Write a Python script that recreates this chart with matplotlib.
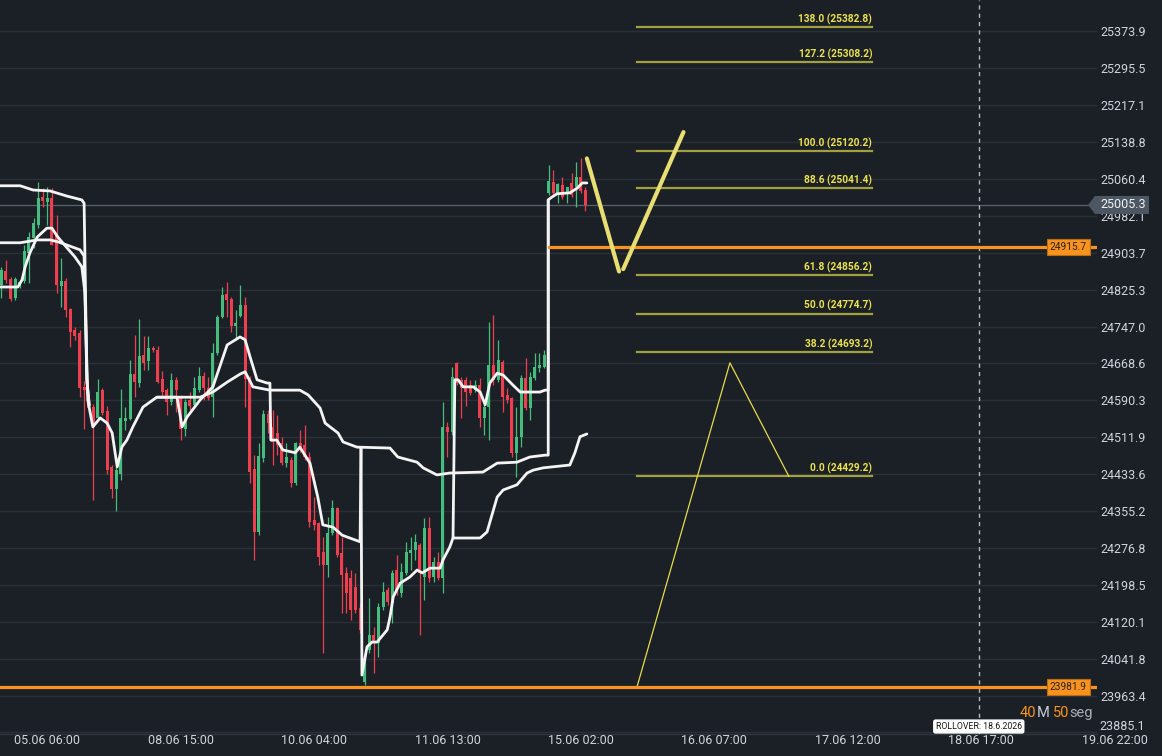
import matplotlib
matplotlib.use("Agg")
import matplotlib.pyplot as plt
from matplotlib.patches import Polygon
from matplotlib.transforms import IdentityTransform, blended_transform_factory
import numpy as np

plt.rcParams['font.family'] = ['Roboto', 'DejaVu Sans']

BG = '#1b2026'
GRID = '#2a3038'
TXT = '#d1d4dc'
UP = '#45bd7c'
DOWN = '#ee3f4f'
ORANGE = '#f7931e'
FIBLINE = '#a3a040'
FIBTXT = '#ebe24e'
WHITE = '#f4f4f4'

# ---------------- data ----------------
opens = [24835, 24865, 24848, 24808, 24835, 24844, 24903, 24935, 24963, 25022,
         25012, 25020, 24946, 24833, 24844, 24784, 24740, 24733, 24619, 24587,
         24576, 24553, 24612, 24568, 24449, 24402, 24434, 24546, 24551, 24646,
         24627, 24687, 24674, 24701, 24697, 24636, 24612, 24587, 24634, 24595,
         24530, 24591, 24580, 24612, 24642, 24617, 24597, 24691, 24767, 24816,
         24806, 24748, 24769, 24793, 24634, 24445, 24311, 24468, 24561, 24534,
         24521, 24500, 24457, 24464, 24415, 24500, 24496, 24470, 24336, 24330,
         24268, 24241, 24309, 24362, 24266, 24224, 24213, 24194, 24149, 23992,
         24060, 24092, 24075, 24151, 24188, 24160, 24230, 24181, 24224, 24266,
         24273, 24283, 24215, 24319, 24215, 24247, 24213, 24534, 24523, 24670,
         24634, 24634, 24623, 24612, 24623, 24553, 24576, 24665, 24634, 24672,
         24602, 24595, 24479, 24513, 24638, 24574, 24638, 24659, 24661, 25031,
         25054, 25031, 25048, 25031, 25052, 25043, 25065, 25037]
highs = [24874, 24888, 24852, 24852, 24846, 24920, 24948, 24978, 25054, 25041,
         25043, 25041, 24984, 24893, 24850, 24786, 24746, 24740, 24631, 24595,
         24583, 24636, 24617, 24579, 24453, 24449, 24614, 24576, 24676, 24729,
         24763, 24727, 24727, 24706, 24706, 24653, 24617, 24648, 24640, 24602,
         24593, 24608, 24640, 24661, 24651, 24640, 24712, 24772, 24831, 24842,
         24810, 24782, 24835, 24810, 24642, 24474, 24500, 24570, 24570, 24570,
         24559, 24513, 24500, 24470, 24502, 24527, 24538, 24481, 24385, 24332,
         24300, 24343, 24379, 24364, 24300, 24236, 24230, 24224, 24160, 24054,
         24171, 24109, 24160, 24205, 24194, 24230, 24262, 24245, 24290, 24300,
         24307, 24287, 24341, 24343, 24258, 24268, 24587, 24544, 24661, 24672,
         24640, 24640, 24634, 24634, 24638, 24587, 24757, 24772, 24718, 24676,
         24617, 24597, 24576, 24644, 24680, 24651, 24691, 24691, 24697, 25090,
         25080, 25052, 25065, 25043, 25073, 25096, 25105, 25043]
lows = [24808, 24840, 24801, 24803, 24829, 24840, 24840, 24914, 24956, 25001,
        24963, 24920, 24818, 24789, 24767, 24704, 24718, 24597, 24530, 24570,
        24379, 24549, 24559, 24434, 24383, 24355, 24421, 24527, 24549, 24597,
        24619, 24655, 24655, 24693, 24627, 24597, 24559, 24580, 24566, 24506,
        24515, 24570, 24576, 24608, 24591, 24591, 24555, 24687, 24765, 24767,
        24735, 24723, 24767, 24576, 24415, 24251, 24304, 24459, 24521, 24453,
        24474, 24453, 24449, 24406, 24411, 24481, 24464, 24321, 24315, 24241,
        24054, 24215, 24304, 24258, 24139, 24139, 24124, 24139, 24096, 23986,
        24054, 24011, 24045, 24145, 24156, 24118, 24177, 24173, 24219, 24230,
        24251, 24092, 24166, 24205, 24205, 24209, 24181, 24470, 24517, 24623,
        24553, 24579, 24602, 24608, 24534, 24517, 24506, 24623, 24629, 24566,
        24585, 24470, 24428, 24491, 24570, 24549, 24634, 24651, 24659, 25026,
        25024, 25009, 25018, 25009, 25022, 25001, 25031, 24992]
closes = [24867, 24846, 24806, 24848, 24842, 24907, 24937, 24967, 25020, 25014,
          25020, 24920, 24835, 24844, 24782, 24735, 24727, 24617, 24612, 24574,
          24534, 24608, 24564, 24442, 24402, 24442, 24553, 24553, 24646, 24629,
          24684, 24670, 24701, 24697, 24629, 24608, 24587, 24634, 24612, 24530,
          24587, 24579, 24617, 24642, 24617, 24595, 24691, 24767, 24814, 24803,
          24748, 24755, 24793, 24636, 24438, 24311, 24472, 24561, 24542, 24502,
          24496, 24457, 24470, 24415, 24500, 24489, 24470, 24332, 24326, 24258,
          24241, 24309, 24362, 24262, 24219, 24181, 24145, 24145, 24103, 24028,
          24092, 24077, 24151, 24183, 24162, 24224, 24181, 24226, 24268, 24273,
          24290, 24224, 24319, 24213, 24247, 24213, 24534, 24523, 24640, 24627,
          24617, 24608, 24606, 24623, 24553, 24576, 24665, 24634, 24676, 24597,
          24591, 24479, 24513, 24638, 24574, 24640, 24661, 24665, 24687, 25056,
          25031, 25050, 25022, 25043, 25026, 25065, 25035, 25005]

# anchored VWAP-style indicator lines (bar index, price)
line_a_x = [-0.3, 4.1, 6.9, 10.6, 14.3, 17.5, 18.0, 18.6, 19.1]
line_a_y = [25046, 25046, 25037, 25035, 25024, 25016, 25009, 24634, 24580]
line_b_x = [-0.3, 4.1, 7.8, 10.6, 12.3, 14.3, 17.1, 18.0, 18.6, 19.1]
line_b_y = [24925, 24925, 24931, 24931, 24927, 24920, 24910, 24897, 24634, 24580]
line_x_x = [-0.3, 3.6, 4.5, 5.2, 6.2, 7.8, 9.9, 11.0, 12.3, 14.3, 16.0, 17.5, 18.2,
            18.8, 19.9, 21.5, 23.0, 24.1, 25.2, 26.2, 27.3, 28.6, 30.8, 33.8, 38.2,
            39.3, 40.4, 43.2, 46.0, 49.1, 51.9, 53.0, 54.1, 55.6, 57.8, 58.4, 58.6,
            59.9, 61.2, 63.9, 64.9, 66.0, 67.1, 68.8, 69.9, 72.1, 74.1, 78.0, 78.2]
line_x_y = [24831, 24831, 24846, 24874, 24903, 24937, 24956, 24956, 24937, 24914,
            24895, 24874, 24818, 24591, 24534, 24553, 24542, 24521, 24449, 24491,
            24506, 24534, 24576, 24597, 24597, 24534, 24555, 24591, 24619, 24708,
            24725, 24719, 24682, 24634, 24627, 24627, 24506, 24506, 24485, 24479,
            24491, 24474, 24457, 24385, 24326, 24321, 24304, 24290, 24489]
line_y_x = [33.8, 43.2, 46.0, 49.1, 51.9, 53.0, 54.7, 58.4, 64.9, 66.7, 69.3, 70.4,
            73.2, 74.3, 77.3, 84.5, 86.2, 90.4, 91.7, 94.7, 97.5, 104.7, 107.8,
            112.1, 114.9, 118.2, 118.9, 118.9]
line_y_y = [24597, 24597, 24608, 24629, 24646, 24651, 24619, 24612, 24612, 24602,
            24574, 24542, 24521, 24502, 24491, 24489, 24470, 24459, 24447, 24432,
            24436, 24438, 24457, 24459, 24470, 24474, 24474, 25016]
line_q_x = [78.2, 78.4, 79.5, 80.6, 81.7, 83.9, 84.5, 85.2, 86.7, 88.8, 90.4, 91.5,
            93.2, 95.4, 96.0, 97.5, 98.2, 104.1, 105.6, 107.8, 109.1, 112.1, 114.3,
            115.6, 117.8, 123.6, 124.7, 125.8, 127.3]
line_q_y = [24489, 24007, 24067, 24077, 24077, 24103, 24130, 24173, 24202, 24215,
            24230, 24224, 24234, 24234, 24251, 24279, 24298, 24298, 24311, 24385,
            24400, 24411, 24436, 24442, 24447, 24453, 24479, 24513, 24519]
line_r_x = [98.2, 98.6, 99.3, 100.4, 102.6, 104.1, 105.2, 106.2, 107.8, 109.1,
            111.2, 112.8, 117.1, 118.2, 118.9, 118.9, 119.7, 120.8, 123.6, 125.2,
            126.3, 127.3]
line_r_y = [24298, 24634, 24634, 24619, 24619, 24608, 24581, 24627, 24648, 24644,
            24623, 24608, 24608, 24612, 24612, 25016, 25022, 25029, 25031, 25041,
            25052, 25052]

price_ticks = [25373.9, 25295.5, 25217.1, 25138.8, 25060.4, 24982.1, 24903.7,
               24825.3, 24747.0, 24668.6, 24590.3, 24511.9, 24433.6, 24355.2,
               24276.8, 24198.5, 24120.1, 24041.8, 23963.4, 23885.1]
time_tick_pos = [10, 39, 68, 97, 126, 155, 184, 213, 242]
time_tick_labels = ['05.06 06:00', '08.06 15:00', '10.06 04:00', '11.06 13:00',
                    '15.06 02:00', '16.06 07:00', '17.06 12:00', '18.06 17:00',
                    '19.06 22:00']

fib_ratios = ['138.0', '127.2', '100.0', '88.6', '61.8', '50.0', '38.2', '0.0']
fib_prices = [25382.8, 25308.2, 25120.2, 25041.4, 24856.2, 24774.7, 24693.2, 24429.2]
fib_x = [138.2, 189.3]

level_upper = 24915.7
level_upper_start = 119.1
level_lower = 23981.9
last_price = 25005.3

abc_x = [138.2, 158.4, 171.2]
abc_y = [23981.9, 24670.0, 24429.2]
zz1_x = [127.3, 134.3]
zz1_y = [25104, 24864]
zz2_x = [135.2, 148.3]
zz2_y = [24869, 25160]

rollover_x = 212.5
rollover_text = 'ROLLOVER: 18.6.2026'

# ---------------- figure ----------------
W, H = 1162, 756
fig = plt.figure(figsize=(W / 100, H / 100), dpi=100, facecolor=BG)
ax = fig.add_axes([0, 22 / H, 1097 / W, 734 / H])
ax.set_facecolor(BG)
XMIN, XMAX = -0.283, 238.2
ax.set_xlim(XMIN, XMAX)
ax.set_ylim(23881.8, 25440.5)

# grid / axes (bottom-most price label is drawn separately, lifted above the time axis)
ax.set_yticks(price_ticks)
ax.set_yticklabels([f'{p:.1f}' for p in price_ticks[:-1]] + [''])
ax.yaxis.tick_right()
ax.tick_params(axis='y', length=0, pad=2.5, labelsize=9, labelcolor=TXT)
ax.set_xticks([])
ax.grid(axis='y', color=GRID, lw=1)
ax.set_axisbelow(True)
for s in ['top', 'left', 'right']:
    ax.spines[s].set_visible(False)
ax.spines['bottom'].set_color('#30363e')
ax.spines['bottom'].set_linewidth(1)

fig.text(1099.5 / W, (H - 727) / H, f'{price_ticks[-1]:.1f}', ha='left', va='center',
         fontsize=9, color=TXT)

btrans = blended_transform_factory(ax.transData, ax.transAxes)
for pos, lab in zip(time_tick_pos, time_tick_labels):
    ax.text(pos, -7 / 734, lab, transform=btrans, ha='center', va='center',
            fontsize=9, color=TXT, clip_on=False)

# candles
o = np.array(opens, float)
c = np.array(closes, float)
h = np.array(highs, float)
l = np.array(lows, float)
idx = np.arange(len(o))
cols = np.where(c >= o, UP, DOWN)
ax.vlines(idx, l, h, colors=cols, linewidth=0.9, zorder=3)
ax.bar(idx, np.maximum(np.abs(c - o), 2.0), bottom=np.minimum(o, c), width=0.65,
       color=cols, linewidth=0, zorder=3)

# current price line
ax.axhline(last_price, color='#58626d', lw=0.9, zorder=2)

# indicator lines
for xs, ys in [(line_a_x, line_a_y), (line_b_x, line_b_y), (line_x_x, line_x_y),
               (line_y_x, line_y_y), (line_q_x, line_q_y), (line_r_x, line_r_y)]:
    ax.plot(xs, ys, color=WHITE, lw=2.0, zorder=5, solid_joinstyle='round',
            solid_capstyle='round')

# orange levels
ax.plot([level_upper_start, XMAX], [level_upper, level_upper], color=ORANGE, lw=2.3, zorder=6)
ax.plot([XMIN, XMAX], [level_lower, level_lower], color=ORANGE, lw=2.3, zorder=6)
ytrans = blended_transform_factory(ax.transAxes, ax.transData)
for lv in [level_upper, level_lower]:
    ax.text(1068.5 / 1097, lv, f'{lv:.1f}', transform=ytrans, ha='center', va='center',
            fontsize=7.3, color='#2a2118', zorder=12,
            bbox=dict(boxstyle='square,pad=0.32', facecolor=ORANGE, edgecolor='#b86e10', lw=0.8))

# fibonacci levels
for r, p in zip(fib_ratios, fib_prices):
    ax.plot(fib_x, [p, p], color=FIBLINE, lw=1.6, zorder=4)
    ax.annotate(f'{r} ({p:.1f})', xy=(fib_x[1], p), xytext=(0, 3.3),
                textcoords='offset points', ha='right', va='baseline',
                fontsize=7.3, fontweight='bold', color=FIBTXT, zorder=7)

# projection lines
ax.plot(abc_x, abc_y, color='#e6da4c', lw=0.9, zorder=4)
for xs, ys in [(zz1_x, zz1_y), (zz2_x, zz2_y)]:
    ax.plot(xs, ys, color='#e9de72', lw=3.0, zorder=7, solid_capstyle='round')

# rollover line and label
ax.axvline(rollover_x, color='#b4b9bf', lw=1, ls=(0, (3, 3)), zorder=4)
ax.text(rollover_x, 0.0102, rollover_text, transform=btrans, ha='center', va='center',
        fontsize=6.3, color='#151515', zorder=12,
        bbox=dict(boxstyle='round,pad=0.22,rounding_size=0.2', facecolor='white',
                  edgecolor='white'))

# last-price tag (display pixel coordinates)
yd = ax.transData.transform((0, last_price))[1]
tag = Polygon([(1088, yd), (1095, yd + 9), (1149, yd + 9), (1149, yd - 9), (1095, yd - 9)],
              closed=True, transform=IdentityTransform(), facecolor='#4c5763',
              edgecolor='none', zorder=5)
fig.add_artist(tag)
fig.text(1100 / W, yd / H, f'{last_price:.1f}', ha='left', va='center', fontsize=9,
         color='#f2f2f2', zorder=6)

# countdown text, right-aligned, multi-coloured
renderer = fig.canvas.get_renderer()
pieces = [('seg', '#a9afb7'), ('50', ORANGE), ('M', '#c9cdd3'), ('40', ORANGE)]
xr = 1093.0
for txt, col in pieces:
    t = fig.text(xr / W, 43 / H, txt, ha='right', va='center', fontsize=10.5, color=col)
    bb = t.get_window_extent(renderer)
    xr = bb.x0 - (4.0 if txt == '50' else 0.0)

fig.savefig('out.png', dpi=100, facecolor=BG)
